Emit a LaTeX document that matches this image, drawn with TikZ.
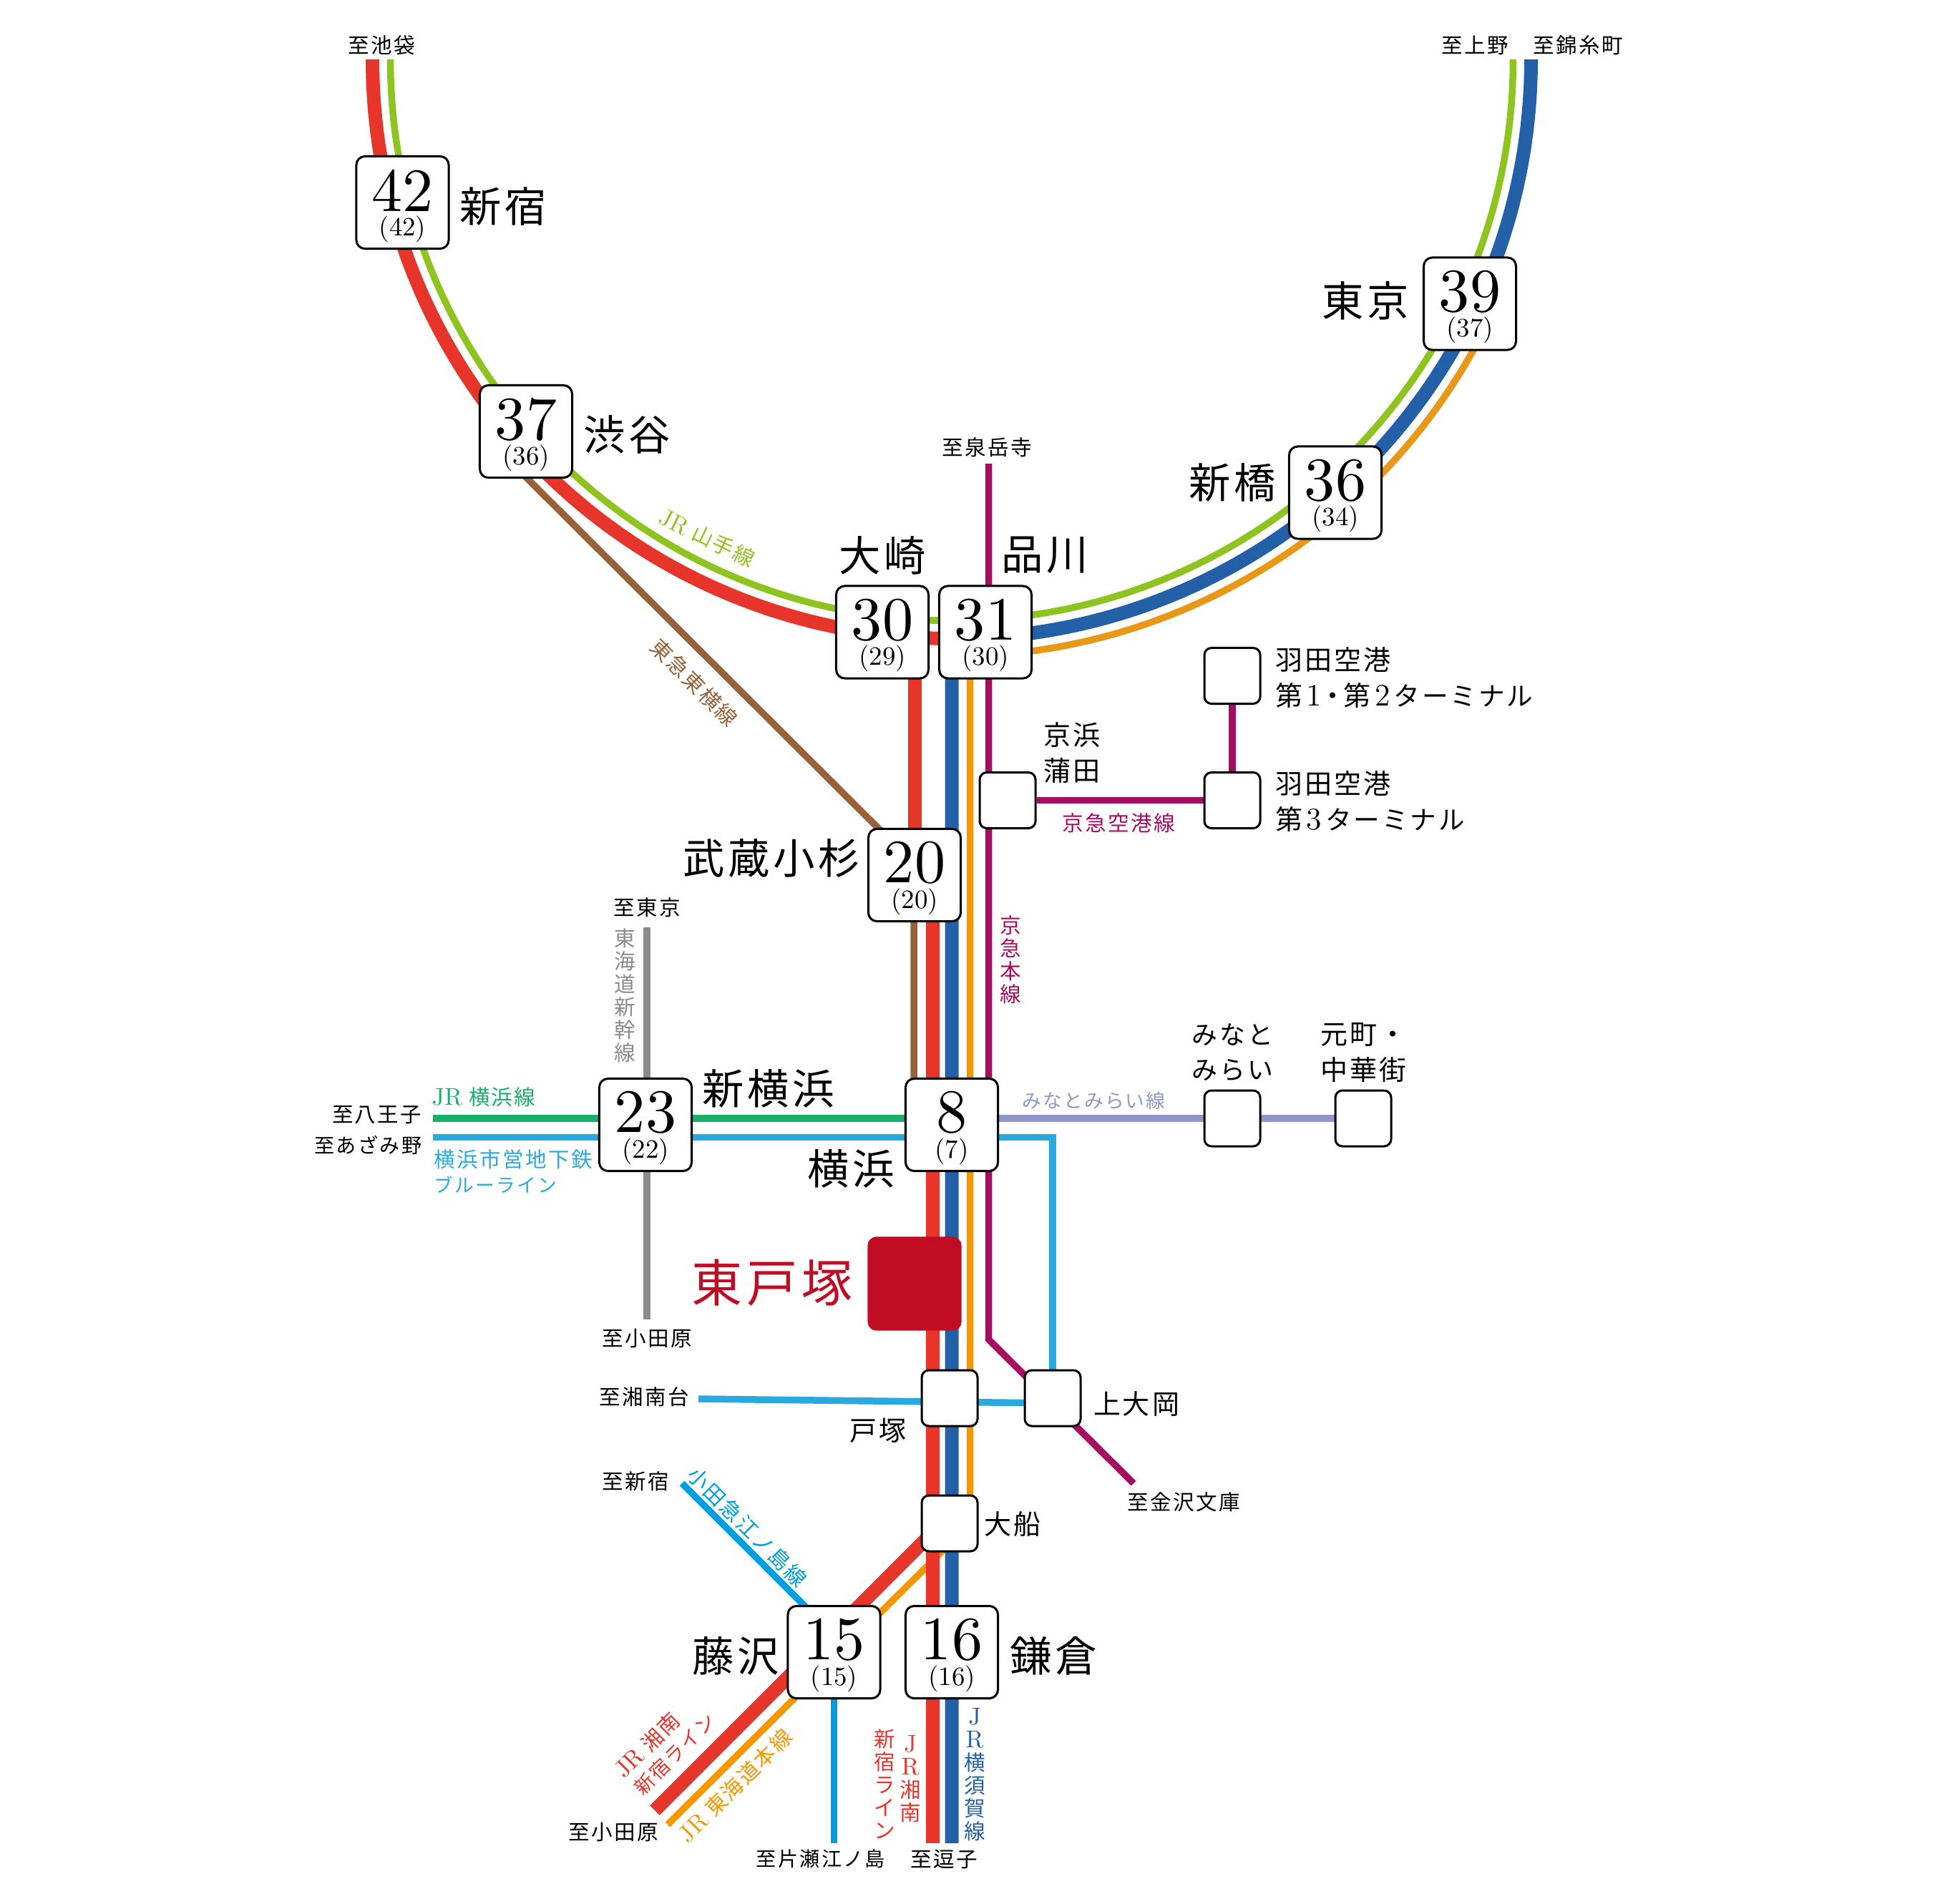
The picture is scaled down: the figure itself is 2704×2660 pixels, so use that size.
\documentclass[tikz,border=0pt]{standalone}
\usepackage{fontspec}
\newfontfamily\cjk[LetterSpace=8]{Noto Sans CJK JP}
\newfontfamily\ltnfont[Scale=1.15]{Latin Modern Roman}
\newfontfamily\numfont[Extension=.otf]{lmroman10-regular}
\usetikzlibrary{backgrounds}
\newcommand{\ltn}[1]{{\ltnfont #1}}
\newcommand{\termkana}{{\fontsize{10.4}{14}\selectfont ターミナル}}
\definecolor{yamanote}{HTML}{8FC31F}
\definecolor{shonan}{HTML}{E8352B}
\definecolor{yokosuka}{HTML}{2360A8}
\definecolor{tokaido}{HTML}{F39800}
\definecolor{tokaidoarc}{HTML}{E99716}
\definecolor{keikyu}{HTML}{A60D62}
\definecolor{toyoko}{HTML}{97623A}
\definecolor{jrykh}{HTML}{18AF6A}
\definecolor{blueline}{HTML}{29A9E0}
\definecolor{odakyu}{HTML}{009DE0}
\definecolor{minatomirai}{HTML}{8F96C9}
\definecolor{shinkansen}{HTML}{8C8C8C}
\definecolor{target}{HTML}{C00D23}
\tikzset{
  stbig/.style={draw=black,fill=white,line width=0.03cm,rounded corners=0.12cm,minimum size=1.29cm,inner sep=0},
  stsmall/.style={draw=black,fill=white,line width=0.03cm,rounded corners=0.1cm,minimum size=0.78cm,inner sep=0},
  ststar/.style={fill=target,rounded corners=0.12cm,minimum size=1.31cm,inner sep=0},
  numbig/.style={font=\numfont\fontsize{24.5}{26}\selectfont,inner sep=0},
  numsub/.style={font=\numfont\fontsize{10.5}{12}\selectfont,inner sep=0},
  namebig/.style={font=\cjk\fontsize{16.6}{20}\selectfont,inner sep=0},
  namestar/.style={font=\cjk\fontsize{20.2}{22}\selectfont,inner sep=0,text=target},
  namesmall/.style={font=\cjk\fontsize{10.8}{14}\selectfont,inner sep=0,align=left},
  namekana/.style={font=\cjk\fontsize{10.2}{14}\selectfont,inner sep=0,align=left},
  dest/.style={font=\cjk\fontsize{8.4}{10}\selectfont,inner sep=0},
  destlong/.style={font=\cjk\fontsize{8}{10}\selectfont,inner sep=0},
  linelabel/.style={font=\cjk\fontsize{8.4}{10}\selectfont,inner sep=0,align=center},
  vlabel/.style={font=\cjk\fontsize{8.4}{9.1}\selectfont,inner sep=0,align=center},
  railthick/.style={line width=0.19cm},
  railthin/.style={line width=0.095cm}
}
\begin{document}
\begin{tikzpicture}[x=0.01cm,y=-0.01cm]
\useasboundingbox (0,0) rectangle (2704,2660);
% stations with numbers
\foreach \num/\sub/\x/\y in {42/42/562.5/283,37/36/735/603,30/29/1233/883.5,31/30/1377/883.5,39/37/2054/424.5,36/34/1866/688.5,20/20/1278/1223,23/22/902/1572,8/7/1330/1572,15/15/1165.5/2309,16/16/1330/2309} {
  \node[stbig] (s\num) at (\x,\y) {};
  \node[numbig] (n\num) at ([yshift=0.17cm]s\num) {\num};
  \node[numsub] (m\num) at ([yshift=-0.37cm]s\num) {(\sub)};
}
\node[ststar] (higashitotsuka) at (1278,1794) {};
% stations without numbers
\foreach \nm/\x/\y in {kamata/1408/1118.5,term3/1722/1118.5,term12/1722/944.5,minato/1722/1563,motomachi/1905/1563,totsuka/1327/1954,kamiooka/1471/1954,ofuna/1327/2129} {
  \node[stsmall] (\nm) at (\x,\y) {};
}
% free ends of the lines
\coordinate (ring) at (1330,83);
\coordinate (gakuji) at (1381.5,648);
\coordinate (kbend) at (1381.5,1872);
\coordinate (kanazawa) at (1584,2073);
\coordinate (zushired) at (1303,2576);
\coordinate (zushiblue) at (1330,2576);
\coordinate (obend) at (1355.5,2129);
\coordinate (odaorange) at (933,2550);
\coordinate (rbend) at (1303,2142);
\coordinate (odared) at (915,2530);
\coordinate (ttop) at (700,632);
\coordinate (tbend) at (1277,1207);
\coordinate (tokyo) at (904,1296);
\coordinate (odawara) at (904,1844);
\coordinate (hachioji) at (605,1563);
\coordinate (azamino) at (605,1589.5);
\coordinate (bbend) at (1471,1589.5);
\coordinate (shonandai) at (976,1955);
\coordinate (kamend) at (1471,1961);
\coordinate (oshinjuku) at (953,2073);
\coordinate (oend) at (1165,2285);
\coordinate (katase) at (1165.5,2576);
\begin{scope}[on background layer]
  \draw[railthin,shinkansen] (tokyo) -- (odawara);
  \draw[railthin,yamanote] (ring) ++(180:7.84cm) arc[start angle=180,end angle=360,radius=7.84cm];
  \draw[railthin,tokaidoarc] (ring) ++(-88:8.34cm) arc[start angle=-88,end angle=-27,radius=8.34cm];
  \draw[railthin,tokaido] (obend |- s31) -- (obend) -- (odaorange);
  \draw[railthick,shonan] (ring) ++(180:8.09cm) arc[start angle=180,end angle=270,radius=8.09cm];
  \draw[railthick,yokosuka] (ring) ++(0:8.09cm) arc[start angle=0,end angle=-90,radius=8.09cm] -- (zushiblue);
  \draw[railthick,shonan] (s20 |- s30) -- (s20);
  \draw[railthick,shonan] (zushired |- s20) -- (zushired);
  \draw[railthick,shonan] (rbend) -- (odared);
  \draw[railthin,keikyu] (gakuji) -- (kbend) -- (kanazawa);
  \draw[railthin,keikyu] (kamata) -- (term3);
  \draw[railthin,keikyu] (term3) -- (term12);
  \draw[railthin,toyoko] (ttop) -- (tbend) -- (tbend |- s8);
  \draw[railthin,minatomirai] (minato -| s8) -- (motomachi);
  \draw[railthin,jrykh] (hachioji) -- (hachioji -| s8);
  \draw[railthin,blueline] (azamino) -- (bbend) -- (kamiooka);
  \draw[railthin,blueline] (shonandai) -- (kamend);
  \draw[railthin,odakyu] (oshinjuku) -- (oend);
  \draw[railthin,odakyu] (s15) -- (katase);
\end{scope}
% station names
\node[namebig] (lshinjuku) at (703.5,288) {新宿};
\node[namebig] (lshibuya) at (876,607) {渋谷};
\node[namebig] (losaki) at (1233,776) {大崎};
\node[namebig] (lshinagawa) at (1460,776) {品川};
\node[namebig] (ltokyo) at (1908,420) {東京};
\node[namebig] (lshinbashi) at (1722,674) {新橋};
\node[namebig] (lkosugi) at (1078,1199) {武蔵小杉};
\node[namebig] (lshinyoko) at (1074,1521) {新横浜};
\node[namebig] (lyokohama) at (1189.5,1633) {横浜};
\node[namebig] (lfujisawa) at (1028.5,2314) {藤沢};
\node[namebig] (lkamakura) at (1472.5,2314) {鎌倉};
\node[namestar] (lhigashi) at (1079,1793) {東戸塚};
\node[namesmall,anchor=west] (lkamata) at (1458,1052) {京浜\\蒲田};
\node[namesmall,anchor=west] (lterm3) at (1781.5,1120) {羽田空港\\第\kern1.5pt\ltn{3}\kern1.5pt\termkana};
\node[namesmall,anchor=west] (lterm12) at (1781.5,947) {羽田空港\\第\kern1.5pt\ltn{1}\kern-1pt・\kern-1pt第\kern1.5pt\ltn{2}\kern1.5pt\termkana};
\node[namekana,anchor=west] (lminato) at (1665,1471) {みなと\\みらい};
\node[namesmall,anchor=west] (lmotomachi) at (1845,1471) {元町・\\中華街};
\node[namesmall] (ltotsuka) at (1227,1999) {戸塚};
\node[namesmall] (lkamiooka) at (1588,1962.5) {上大岡};
\node[namesmall] (lofuna) at (1414.5,2130.5) {大船};
% destinations
\node[dest] (dike) at (533,63) {至池袋};
\node[dest] (dueno) at (2061,63) {至上野};
\node[dest] (dkinshi) at (2205,63) {至錦糸町};
\node[dest] (dgaku) at (1379.5,625) {至泉岳寺};
\node[dest] (dtokyo) at (904,1268) {至東京};
\node[dest,anchor=east] (dhachi) at (590,1558) {至八王子};
\node[destlong,anchor=east] (dazami) at (590,1600) {至あざみ野};
\node[dest] (doda) at (904,1870) {至小田原};
\node[dest] (dshonan) at (900,1952) {至湘南台};
\node[dest] (dshin) at (888.5,2070) {至新宿};
\node[dest] (dkana) at (1654,2099) {至金沢文庫};
\node[dest] (doda2) at (857,2560) {至小田原};
\node[destlong] (dkatase) at (1147,2598) {至片瀬江ノ島};
\node[dest] (dzushi) at (1319.5,2598) {至逗子};
% line names
\node[linelabel,text=yamanote,rotate=-26] (tyama) at (988,752) {\ltn{JR} 山手線};
\node[linelabel,text=toyoko,rotate=-45] (ttoyo) at (970,954) {東急東横線};
\node[linelabel,text=keikyu] (tair) at (1563.5,1150) {京急空港線};
\node[destlong,text=minatomirai,font=\cjk\fontsize{7.6}{10}\selectfont] (tmm) at (1528.5,1538) {みなとみらい線};
\node[linelabel,text=jrykh] (tjry) at (676,1533) {\ltn{JR} 横浜線};
\node[linelabel,text=blueline,anchor=west,align=left] (tblue) at (606,1637) {横浜市営地下鉄\\{\fontsize{7.6}{10}\selectfont ブルーライン}};
\node[linelabel,text=odakyu,rotate=-45] (toda) at (1044.5,2134) {小田急江ノ島線};
\node[linelabel,text=shonan,rotate=45] (tshn) at (917,2451) {\ltn{JR} 湘南\\{\hspace*{10pt}\fontsize{7.8}{10}\selectfont 新宿ライン}};
\node[linelabel,text=tokaido,rotate=45] (ttok) at (1027.5,2495.5) {\ltn{JR} 東海道本線};
\node[vlabel,text=shinkansen] (tsk) at (873,1391) {東\\海\\道\\新\\幹\\線};
\node[vlabel,text=keikyu] (tkk) at (1412,1341) {京\\急\\本\\線};
\node[vlabel,text=shonan] (tsr) at (1272,2486) {\ltn{J}\\\ltn{R}\\湘\\南};
\node[vlabel,text=shonan] (tsl) at (1236,2493) {新\\宿\\ラ\\イ\\ン};
\node[vlabel,text=yokosuka] (tyo) at (1362,2480) {\ltn{J}\\\ltn{R}\\横\\須\\賀\\線};
\end{tikzpicture}
\end{document}
